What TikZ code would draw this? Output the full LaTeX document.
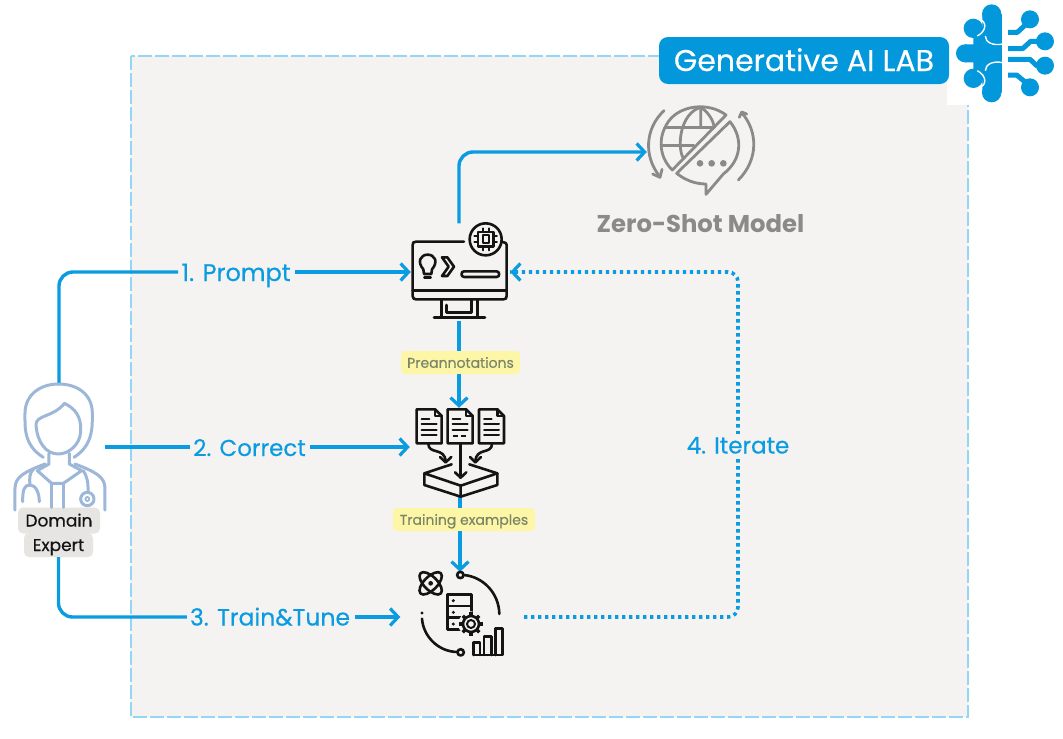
\documentclass[tikz,border=0pt]{standalone}
\usepackage{fontspec}
\setmainfont{Poppins}
\newfontfamily\medf[FakeBold=0.35]{Poppins}
\usetikzlibrary{arrows.meta,calc}
\definecolor{flow}{HTML}{0A9BE0}
\definecolor{labblue}{HTML}{0398DC}
\definecolor{panel}{HTML}{F4F3F2}
\definecolor{dashc}{HTML}{93D6F5}
\definecolor{greyic}{HTML}{8A8A8A}
\definecolor{person}{HTML}{9DB7D8}
\definecolor{ink}{HTML}{141414}
\definecolor{tagy}{HTML}{FCF6A6}
\definecolor{tagt}{HTML}{7A8568}
\definecolor{tagg}{HTML}{E7E5E2}
\tikzset{
 fs/.style={font=\medf\fontsize{#1}{#1}\selectfont},
 link/.style={draw=flow,line width=3.4pt,rounded corners=14pt},
 tip/.style={-{Straight Barb[length=8pt,width=17pt,line width=3.2pt]}},
 dots/.style={draw=flow,line width=3.6pt,dash pattern=on 3.4pt off 3.6pt,rounded corners=10pt},
 steplabel/.style={text=flow,fs=#1,inner sep=0pt,anchor=center,text height=17pt,text depth=0pt},
 tagbox/.style={fill=tagy,text=tagt,rounded corners=4pt,fs=#1,inner sep=0pt,minimum height=23pt,text height=10.5pt,text depth=0pt},
 whobox/.style={fill=tagg,text=ink,rounded corners=5pt,fs=17,inner sep=0pt,text height=12pt,text depth=0pt},
 slot/.style={inner sep=0pt,minimum width=#1},
 ic/.style={draw=ink,line width=2.6pt,line cap=round,line join=round},
 ig/.style={draw=greyic,line width=2.8pt,line cap=round,line join=round},
 ip/.style={draw=person,line width=3pt,line cap=round,line join=round},
}
\begin{document}
\begin{tikzpicture}[x=1pt,y=-1pt]
\useasboundingbox (0,0) rectangle (1063,739);
\fill[white] (0,0) rectangle (1063,739);
% panel
\draw[fill=panel,draw=dashc,line width=2.6pt,dash pattern=on 14pt off 3pt] (131,56) rectangle (968,717);
% logo backing
\fill[white] (947,0) rectangle (1063,105);
% slots
\node[slot=96pt,minimum height=97pt] (monitor) at (459,272) {};
\node[slot=90pt,minimum height=89pt] (docs) at (460,452.5) {};
\node[slot=105pt,minimum height=92pt] (model) at (460,618) {};
\node[slot=92pt,minimum height=128pt] (user) at (59,447) {};
\node[slot=108pt,minimum height=92pt] (zero) at (701,152) {};
\node[fill=labblue,text=white,rounded corners=9pt,fs=30,minimum width=290pt,minimum height=47pt,inner sep=0pt,text height=21pt,text depth=0pt] (lab) at (804,60.5) {Generative AI LAB};
\node[text=greyic,font=\bfseries\fontsize{24.3}{24.3}\selectfont,inner sep=0pt] (zerot) at (700.5,224) {Zero-Shot Model};
% labels
\node[steplabel=24] (l1) at (236,272.5) {1. Prompt};
\node[steplabel=23] (l2) at (249.5,447.5) {2. Correct};
\node[steplabel=23.5] (l3) at (270,617) {3. Train\&Tune};
\coordinate (itc) at (738,445);
\node[tagbox=14,minimum width=119pt] (pre) at (460.5,362.5) {Preannotations};
\node[tagbox=14,minimum width=142pt] (tra) at (464,519.5) {Training examples};
\node[whobox,minimum width=82pt,minimum height=26pt] (dom) at (59,520.5) {Domain};
\node[whobox,minimum width=69pt,minimum height=24pt] (exp) at (58.5,545) {Expert};
% connectors
\draw[link] (user.north) |- ([xshift=-3pt]l1.west |- monitor);
\draw[link,tip] ([xshift=4pt]l1.east |- monitor) -- (monitor.west);
\draw[link] (user.east) -- ([xshift=-3pt]l2.west |- user);
\draw[link,tip] ([xshift=4pt]l2.east |- user) -- ([xshift=-5pt]docs.west |- user);
\draw[link] (exp.south) |- ([xshift=-3pt]l3.west);
\draw[link,tip] ([xshift=5pt]l3.east) -- ([xshift=-7pt]model.west |- l3.east);
\draw[link,tip] (monitor.north) |- (zero.west);
\draw[link] (monitor.south) -- (pre.north -| monitor);
\draw[link,tip] (pre.south -| monitor) -- (docs.north -| monitor);
\draw[link] (docs.south) -- (tra.north -| docs);
\draw[link,tip] (tra.south -| docs) -- (model.north);
\coordinate (dstart) at (524,617);
\draw[dots] (dstart) -| (itc) |- ([xshift=3pt]monitor.east);
\draw[draw=flow,line width=3.4pt,{Straight Barb[length=8pt,width=17pt,line width=3.2pt]}-] ([xshift=3pt]monitor.east) -- ++(7,0);
\node[steplabel=23,fill=panel,inner ysep=3pt] (l4) at (itc) {4. Iterate};
% ---- logo
\begin{scope}[shift={(640,0)},x=1/3*1pt,y=-1/3*1pt]
 \fill[labblue] (1055,42) circle (29) (1000,85) circle (29) (975,160) circle (27) (1000,235) circle (29) (1055,278) circle (29);
 \fill[labblue] (1027,42) rectangle (1086,278) (1000,85) rectangle (1060,235) (975,133) rectangle (1060,187);
 \draw[white,line width=1.4pt] (1012,56) .. controls (1042,60) and (1042,92) .. (1012,108);
 \draw[white,line width=1.4pt] (1012,264) .. controls (1042,260) and (1042,228) .. (1012,212);
 \draw[white,line width=1.4pt] (1036,108) .. controls (1036,128) and (1060,138) .. (1088,132);
 \draw[white,line width=1.4pt] (1036,212) .. controls (1036,192) and (1060,182) .. (1088,188);
 \fill[white] (1086,0) rectangle (1104,320);
 \fill[labblue] (1170,58) circle (27) (1215,124) circle (27) (1215,197) circle (27) (1170,262) circle (27);
 \draw[labblue,line width=5pt,line join=round] (1104,97) -- (1132,97) -- (1170,62);
 \draw[labblue,line width=5pt,line join=round] (1104,146) -- (1148,146) -- (1172,124) -- (1215,124);
 \draw[labblue,line width=5pt,line join=round] (1104,178) -- (1170,178) -- (1190,197) -- (1215,197);
 \draw[labblue,line width=5pt,line join=round] (1104,225) -- (1130,225) -- (1170,258);
 % zero-shot icon
 \draw[ig] (258,345) .. controls (205,305) and (120,315) .. (85,365) .. controls (50,415) and (60,475) .. (97,510) -- cycle;
 \draw[ig] (75,382) -- (222,382) (68,437) -- (162,437);
 \draw[ig] (182,322) .. controls (120,340) and (110,440) .. (130,475);
 \draw[ig] (182,322) -- (182,380) (182,322) .. controls (205,335) and (222,365) .. (222,382);
 \draw[ig] (270,365) .. controls (310,415) and (305,480) .. (250,522) -- (198,583) -- (198,552) .. controls (165,552) and (135,540) .. (110,520) -- cycle;
 \fill[greyic] (180,490) circle (10) (215,490) circle (10) (250,490) circle (10);
 \draw[ig] (72,332) .. controls (15,385) and (10,470) .. (60,530);
 \draw[ig] (38,522) -- (60,532) -- (66,508);
 \draw[ig] (295,540) .. controls (355,480) and (355,395) .. (305,338);
 \draw[ig] (298,352) -- (305,336) -- (320,342);
\end{scope}
% ---- monitor
\begin{scope}[shift={(390,210)},x=1/3*1pt,y=-1/3*1pt]
 \draw[ic] (222,95) -- (78,95) .. controls (70,95) and (68,98) .. (68,105) -- (68,258) .. controls (68,265) and (72,268) .. (78,268) -- (340,268) .. controls (347,268) and (350,265) .. (350,258) -- (350,105) .. controls (350,100) and (347,97) .. (338,96);
 \draw[ic] (68,241) -- (350,241);
 \draw[ic] (287,88) circle (48);
 \draw[ic] (264,66) rectangle (310,110);
 \draw[ic,line width=1.9pt] (278,76) rectangle (296,98);
 \draw[ic,line width=1.9pt] (278,55) -- (278,66) (296,55) -- (296,66) (278,110) -- (278,121) (296,110) -- (296,121) (253,78) -- (264,78) (253,97) -- (264,97) (310,78) -- (321,78) (310,97) -- (321,97);
 \draw[ic] (100,178) .. controls (80,155) and (92,134) .. (113,134) .. controls (134,134) and (146,155) .. (126,178) -- (124,192) -- (102,192) -- cycle;
 \draw[ic] (103,203) -- (122,203);
 \draw[ic] (156,142) -- (172,142) -- (192,170) -- (172,198) -- (156,198) -- (176,170) -- cycle;
 \draw[ic] (222,184) -- (320,184) .. controls (330,184) and (330,201) .. (320,201) -- (222,201) .. controls (212,201) and (212,184) .. (222,184);
 \draw[ic] (155,268) -- (155,322) (262,268) -- (262,322) (170,285) -- (170,308) -- (245,308) -- (245,268);
 \draw[ic] (132,323) -- (285,323);
\end{scope}
% ---- documents
\begin{scope}[shift={(390,345)},x=1/3*1pt,y=-1/3*1pt]
 \foreach \d/\k in {0/1,93/2,187/3}{
  \begin{scope}[xshift=\d*1pt/3]
   \draw[ic] (80,193) -- (135,193) -- (155,213) -- (155,295) -- (80,295) -- cycle;
   \draw[ic] (135,193) -- (135,213) -- (155,213);
   \draw[ic,line width=2pt] (95,222) -- (118,222) (95,238) -- (140,238) (95,254) -- (140,254);
   \ifnum\k=2
     \draw[ic,line width=2pt,dash pattern=on 5pt off 3pt,line cap=butt] (95,272) -- (140,272);
   \else
     \draw[ic,line width=2pt] (95,270) -- (140,270);
   \fi
  \end{scope}}
 \draw[ic] (212,295) -- (212,398);
 \draw[ic] (195,382) -- (212,398) -- (229,382);
 \draw[ic] (115,296) .. controls (115,330) and (165,305) .. (167,350);
 \draw[ic] (150,336) -- (167,352) -- (184,336);
 \draw[ic] (306,296) .. controls (306,330) and (258,305) .. (256,350);
 \draw[ic] (240,336) -- (256,352) -- (273,336);
 \draw[ic] (185,358) -- (103,385) -- (212,422) -- (322,385) -- (238,358);
 \draw[ic] (103,385) -- (103,420) -- (212,455) -- (322,420) -- (322,385) (212,422) -- (212,455);
\end{scope}
% ---- model
\begin{scope}[shift={(400,550)},x=1/3*1pt,y=-1/3*1pt]
 \draw[ic,rotate around={45:(92,100)}] (92,100) ellipse (43 and 20);
 \draw[ic,rotate around={-45:(92,100)}] (92,100) ellipse (43 and 20);
 \fill[ink] (92,100) circle (7);
 \draw[ic] (181,75) circle (9.5);
 \draw[ic] (191,75) .. controls (250,80) and (297,130) .. (298,192);
 \fill[ink] (66,189) circle (5);
 \draw[ic] (66,206) .. controls (70,260) and (115,305) .. (172,306);
 \draw[ic] (182,307) circle (9.5);
 \draw[ic] (142,133) rectangle (215,238);
 \draw[ic] (142,168) -- (215,168) (142,203) -- (215,203);
 \fill[ink] (160,152) circle (5) (160,187) circle (5) (160,222) circle (5);
 \fill[panel] (213,222) circle (38);
 \draw[ic,line width=2pt] (213,222) circle (12);
 \foreach \a in {0,45,...,315}{\draw[ink,line width=3.2pt] ($(213,222)+(\a:22)$) -- ($(213,222)+(\a:35)$);}
 \draw[ic] (213,222) circle (24);
 \draw[ic] (220,315) -- (220,278) -- (240,278) -- (240,315) (252,315) -- (252,260) -- (275,260) -- (275,315) (287,315) -- (287,235) -- (308,235) -- (308,315) -- (220,315);
\end{scope}
% ---- person
\begin{scope}[shift={(0,370)},x=1/3*1pt,y=-1/3*1pt]
 \draw[ip] (130,262) .. controls (70,225) and (75,170) .. (75,130) .. controls (75,75) and (120,42) .. (175,42) .. controls (235,42) and (277,75) .. (277,130) .. controls (277,170) and (280,225) .. (222,262);
 \draw[ip] (108,165) .. controls (105,135) and (165,140) .. (193,100) .. controls (225,115) and (245,140) .. (242,185) .. controls (240,225) and (205,252) .. (175,252) .. controls (140,252) and (112,220) .. (108,165);
 \draw[ip] (147,250) -- (147,282) -- (112,302) -- (155,340) -- (190,340) -- (245,302) -- (208,282) -- (208,250);
 \draw[ip] (155,340) -- (155,412) (190,340) -- (190,412);
 \draw[ip] (45,420) -- (45,355) .. controls (45,320) and (75,305) .. (135,282);
 \draw[ip] (315,420) -- (315,355) .. controls (315,320) and (285,305) .. (225,282);
 \draw[ip] (100,298) .. controls (88,310) and (88,325) .. (90,345);
 \draw[ip] (68,395) .. controls (68,360) and (72,345) .. (90,345) .. controls (108,345) and (118,370) .. (118,395);
 \draw[ip] (250,302) .. controls (262,320) and (265,340) .. (264,366);
 \draw[ip] (262,387) circle (20);
 \draw[ip,line width=1.8pt] (262,387) circle (6);
\end{scope}
\end{tikzpicture}
\end{document}
